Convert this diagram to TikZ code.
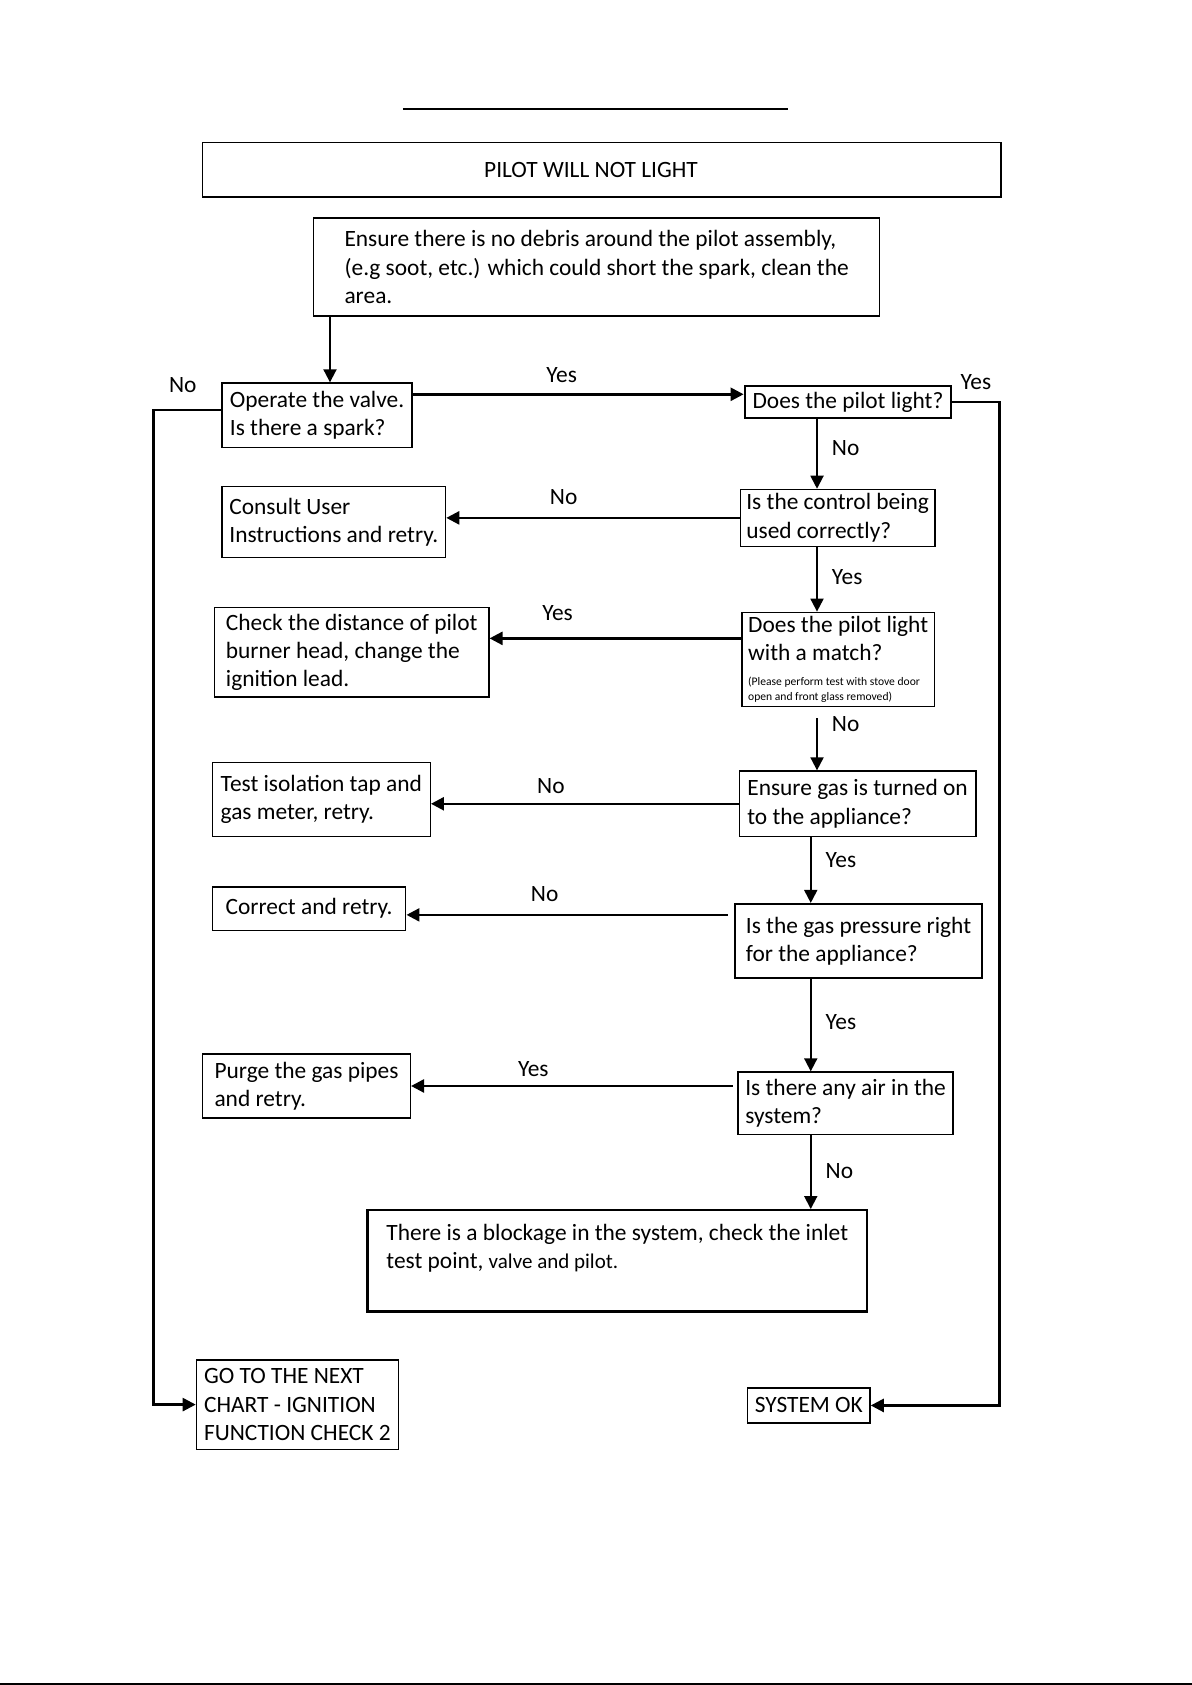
\documentclass[tikz,border=0pt]{standalone}
\usepackage{fontspec}
\setmainfont{Carlito}
\usetikzlibrary{arrows.meta, positioning, calc}

\begin{document}
\begin{tikzpicture}[
      box/.style={rectangle, draw, line width=0.7pt, anchor=north west, align=left, inner xsep=3pt, inner ysep=2pt, font=\fontsize{11.7}{14.2}\selectfont},
      heavy/.style={box, line width=1.1pt},
      arrow/.style={-{Triangle[length=6.5pt, width=6.5pt]}, line width=1.25pt},
      varrow/.style={arrow, line width=0.95pt},
      lbl/.style={font=\fontsize{11.7}{14.2}\selectfont, inner sep=2pt}
    ]
    \useasboundingbox (0,0) rectangle (20.947,-29.616);

    \draw[line width=1.1pt] (7.08,-1.91) -- (13.85,-1.91);
    \draw[line width=1pt] (0,-29.598) -- (20.947,-29.598);

    \node[box, minimum width=14.03cm, minimum height=0.96cm] (title) at (3.55,-2.49) {PILOT WILL NOT LIGHT\hspace*{0.38cm}};
    \node[box, minimum width=9.95cm, minimum height=1.72cm] (debris) at (5.50,-3.82) {Ensure there is no debris around the pilot assembly,\\(e.g soot, etc.) which could short the spark, clean the\\area.};

    \node[box, minimum width=3.34cm, minimum height=1.13cm] (valve) at (3.89,-6.72) {Operate the valve.\\Is there a spark?};
    \node[heavy, minimum width=3.63cm, minimum height=0.57cm] (pilot) at (13.07,-6.76) {Does the pilot light?};
    \node[box, minimum width=3.40cm, minimum height=1.00cm] (control) at (13.00,-8.59) {Is the control being\\used correctly?};
    \node[box, minimum width=3.93cm, minimum height=1.25cm] (consult) at (3.89,-8.54) {Consult User\\Instructions and retry.};
    \node[box, minimum width=3.38cm, minimum height=1.59cm] (match) at (13.03,-10.75) {Does the pilot light\\with a match?\\[-1.8pt]{\fontsize{5.8}{7.5}\selectfont (Please perform test with stove door}\\[-6.7pt]{\fontsize{5.8}{7.5}\selectfont open and front glass removed)}};
    \node[box, minimum width=4.82cm, minimum height=1.57cm] (distance) at (3.76,-10.67) {Check the distance of pilot\\burner head, change the\\ignition lead.};
    \node[box, minimum width=4.16cm, minimum height=1.15cm] (gason) at (12.98,-13.54) {Ensure gas is turned on\\to the appliance?};
    \node[box, minimum width=3.83cm, minimum height=1.30cm] (isotap) at (3.72,-13.39) {Test isolation tap and\\gas meter, retry.};
    \node[heavy, minimum width=4.34cm, minimum height=1.30cm] (pressure) at (12.90,-15.87) {Is the gas pressure right\\for the appliance?};
    \node[box, minimum width=3.40cm, minimum height=0.76cm] (correct) at (3.72,-15.58) {Correct and retry.};
    \node[box, minimum width=3.78cm, minimum height=1.10cm] (air) at (12.96,-18.83) {Is there any air in the\\system?};
    \node[box, minimum width=3.65cm, minimum height=1.13cm] (purge) at (3.55,-18.51) {Purge the gas pipes\\and retry.};
    \node[heavy, minimum width=8.78cm, minimum height=1.78cm] (block) at (6.44,-21.25) {There is a blockage in the system, check the inlet\\test point, {\fontsize{10.5}{14.2}\selectfont valve and pilot.}\\\mbox{}};
    \node[box, minimum width=3.55cm, minimum height=1.57cm] (nextchart) at (3.44,-23.89) {GO TO THE NEXT\\CHART - IGNITION\\FUNCTION CHECK 2};
    \node[box, minimum width=2.15cm, minimum height=0.62cm] (sysok) at (13.13,-24.38) {SYSTEM OK};

    \coordinate (spineA) at (14.36,0);
    \coordinate (spineB) at (14.25,0);
    \coordinate (d0) at ($(debris.south west)+(0.30,0)$);
    \coordinate (v0) at ($(valve.north east)+(0,-0.21)$);
    \coordinate (v1) at ($(valve.west)+(0,0.09)$);
    \coordinate (m0) at ($(match.north west)+(0,-0.47)$);
    \coordinate (m1) at ($(match.south -| spineA)+(0,-0.19)$);
    \coordinate (p0) at ($(pressure.north west)+(-0.11,-0.21)$);
    \coordinate (a0) at ($(purge.east -| air.west)+(-0.08,0)$);

    \draw[varrow] (d0) -- (d0 |- valve.north);
    \draw[arrow] (v0) -- node[lbl, above=3pt, pos=0.45]{Yes} (v0 -| pilot.west);
    \draw[arrow] (pilot.east) -- node[lbl, above=3.5pt]{Yes} ++(0.83,0) |- (sysok.east);
    \draw[arrow] (v1) -- node[lbl, above=6pt, pos=0.57]{No} ++(-1.19,0) |- (nextchart.west);

    \draw[varrow] (pilot.south -| spineA) -- node[lbl, right=5pt, pos=0.42]{No} (control.north -| spineA);
    \draw[arrow] (control.west) -- node[lbl, above=4pt, pos=0.60]{No} (control.west -| consult.east);
    \draw[varrow] (control.south -| spineA) -- node[lbl, right=5pt, pos=0.46]{Yes} (match.north -| spineA);
    \draw[arrow] (m0) -- node[lbl, above=6pt, pos=0.73]{Yes} (m0 -| distance.east);
    \draw[varrow] (m1) -- node[lbl, right=5pt, pos=0.12]{No} (gason.north -| spineA);
    \draw[arrow] (gason.west) -- node[lbl, above=2.5pt, pos=0.61]{No} (gason.west -| isotap.east);
    \draw[varrow] (gason.south -| spineB) -- node[lbl, right=5pt, pos=0.35]{Yes} (pressure.north -| spineB);
    \draw[arrow] (p0) -- node[lbl, above=4pt, pos=0.57]{No} (p0 -| correct.east);
    \draw[varrow] (pressure.south -| spineB) -- node[lbl, right=5pt, pos=0.47]{Yes} (air.north -| spineB);
    \draw[arrow] (a0) -- node[lbl, above=2pt, pos=0.62]{Yes} (purge.east);
    \draw[varrow] (air.south -| spineB) -- node[lbl, right=5pt, pos=0.49]{No} (block.north -| spineB);
  \end{tikzpicture}
\end{document}
